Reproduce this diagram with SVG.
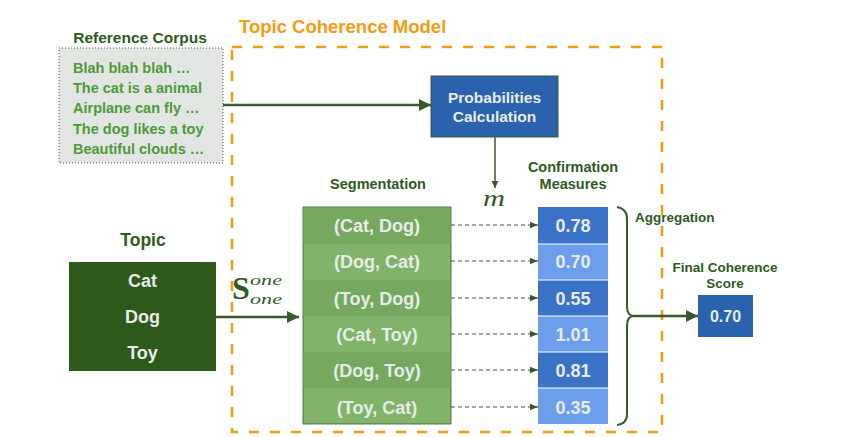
<svg xmlns="http://www.w3.org/2000/svg" width="841" height="437" viewBox="0 0 841 437">
<style>
.t{font-family:"Liberation Sans",Arial,sans-serif;font-weight:bold;fill:#2f5a1f}
.w{font-family:"Liberation Sans",Arial,sans-serif;font-weight:bold;fill:#e8ece8;text-anchor:middle;font-size:18px}
.c{font-family:"Liberation Sans",Arial,sans-serif;fill:#4e9a3a;font-size:14.5px;font-weight:bold}
.ln{stroke:#3b5a2c;fill:none}
.dl{stroke:#3b5a2c;fill:none;stroke-width:1;stroke-dasharray:4 3}
.mi{font-family:"Liberation Serif",serif;font-style:italic;fill:#2f5a1f}
</style>
<defs>
<marker id="ah" viewBox="0 0 10 10" refX="10" refY="5" markerWidth="5" markerHeight="5" orient="auto" markerUnits="strokeWidth"><path d="M0,0L10,5L0,10z" fill="#3b5a2c"/></marker>
<marker id="as" viewBox="0 0 10 10" refX="10" refY="5" markerWidth="8" markerHeight="8" orient="auto" markerUnits="strokeWidth"><path d="M0,1L10,5L0,9z" fill="#3b5a2c"/></marker>
</defs>
<g id="model-frame">
<rect x="232" y="47" width="430" height="385" fill="none" stroke="#f39c12" stroke-width="2.5" stroke-dasharray="10 11"/>
<text x="239" y="33" font-family="Liberation Sans,Arial,sans-serif" font-weight="bold" font-size="18.5" fill="#f39c12">Topic Coherence Model</text>
</g>
<g id="corpus">
<text class="t" x="140" y="43" font-size="15.5" text-anchor="middle">Reference Corpus</text>
<rect x="59" y="48" width="164" height="115" fill="#e2e6e2" stroke="#555" stroke-width="1" stroke-dasharray="1 2"/>
<text class="c" x="73" y="73">Blah blah blah …</text>
<text class="c" x="73" y="93">The cat is a animal</text>
<text class="c" x="73" y="113">Airplane can fly …</text>
<text class="c" x="73" y="134">The dog likes a toy</text>
<text class="c" x="73" y="154">Beautiful clouds …</text>
</g>
<g id="prob">
<rect x="431" y="76" width="127" height="61" fill="#2a62ad" stroke="#3b5a2c" stroke-width="1"/>
<text class="w" x="494.5" y="103" style="font-size:15.5px">Probabilities</text>
<text class="w" x="494.5" y="122" style="font-size:15.5px">Calculation</text>
</g>
<g id="topic">
<text class="t" x="143" y="246" font-size="17.5" text-anchor="middle">Topic</text>
<rect x="69" y="262" width="147" height="109" fill="#2d5a1b"/>
<text class="w" x="142.5" y="287">Cat</text>
<text class="w" x="142.5" y="323">Dog</text>
<text class="w" x="142.5" y="359">Toy</text>
</g>
<g id="segmentation">
<text class="t" x="378" y="189" font-size="14.5" text-anchor="middle">Segmentation</text>
<rect x="303" y="207" width="148" height="217" fill="#82b36b" stroke="#3b5a2c" stroke-width="0.8"/>
<rect x="303.5" y="207.5" width="147" height="36.5" fill="#76a860"/>
<rect x="303.5" y="280" width="147" height="36" fill="#76a860"/>
<rect x="303.5" y="352" width="147" height="36" fill="#76a860"/>
<text class="w" x="377" y="232">(Cat, Dog)</text>
<text class="w" x="377" y="268">(Dog, Cat)</text>
<text class="w" x="377" y="305">(Toy, Dog)</text>
<text class="w" x="377" y="341">(Cat, Toy)</text>
<text class="w" x="377" y="377">(Dog, Toy)</text>
<text class="w" x="377" y="414">(Toy, Cat)</text>
</g>
<g id="measures">
<text class="t" x="573" y="172" font-size="14.5" text-anchor="middle">Confirmation</text>
<text class="t" x="573" y="189" font-size="14.5" text-anchor="middle">Measures</text>
<rect x="538" y="207" width="70" height="37" fill="#3a72c8"/>
<rect x="538" y="244" width="70" height="36" fill="#6d9eeb"/>
<rect x="538" y="280" width="70" height="36" fill="#3a72c8"/>
<rect x="538" y="316" width="70" height="36" fill="#6d9eeb"/>
<rect x="538" y="352" width="70" height="36" fill="#3a72c8"/>
<rect x="538" y="388" width="70" height="36" fill="#6d9eeb"/>
<g stroke="#fff" stroke-width="1"><line x1="538" y1="244" x2="608" y2="244"/><line x1="538" y1="280" x2="608" y2="280"/><line x1="538" y1="316" x2="608" y2="316"/><line x1="538" y1="352" x2="608" y2="352"/><line x1="538" y1="388" x2="608" y2="388"/></g>
<text class="w" x="573" y="232">0.78</text>
<text class="w" x="573" y="268">0.70</text>
<text class="w" x="573" y="305">0.55</text>
<text class="w" x="573" y="341">1.01</text>
<text class="w" x="573" y="377">0.81</text>
<text class="w" x="573" y="414">0.35</text>
</g>
<g id="final">
<text class="t" x="725" y="272" font-size="13.5" text-anchor="middle">Final Coherence</text>
<text class="t" x="725" y="288" font-size="13.5" text-anchor="middle">Score</text>
<rect x="698" y="295" width="55" height="42" fill="#2a62ad"/>
<text class="w" x="725.5" y="322" style="font-size:16px">0.70</text>
</g>
<g id="connectors">
<line class="ln" x1="223" y1="105" x2="431" y2="105" stroke-width="2.5" marker-end="url(#ah)"/>
<line class="ln" x1="495" y1="137" x2="495" y2="188" stroke-width="1.5" marker-end="url(#ah)"/>
<text class="mi" x="483" y="206" font-size="24" textLength="22" lengthAdjust="spacingAndGlyphs">m</text>
<line class="ln" x1="216" y1="317" x2="299" y2="317" stroke-width="2.5" marker-end="url(#ah)"/>
<text x="232" y="299" font-family="Liberation Serif,serif" font-weight="bold" font-size="32" fill="#2f5a1f">S</text>
<text class="mi" x="250" y="285" font-size="15" textLength="32" lengthAdjust="spacingAndGlyphs">one</text>
<text class="mi" x="250" y="304" font-size="15" textLength="32" lengthAdjust="spacingAndGlyphs">one</text>
<line class="dl" x1="451" y1="225" x2="538" y2="225" marker-end="url(#as)"/>
<line class="dl" x1="451" y1="261" x2="538" y2="261" marker-end="url(#as)"/>
<line class="dl" x1="451" y1="298" x2="538" y2="298" marker-end="url(#as)"/>
<line class="dl" x1="451" y1="334" x2="538" y2="334" marker-end="url(#as)"/>
<line class="dl" x1="451" y1="370" x2="538" y2="370" marker-end="url(#as)"/>
<line class="dl" x1="451" y1="407" x2="538" y2="407" marker-end="url(#as)"/>
<path class="ln" stroke-width="2" d="M617,207 Q627,209 627,218 L627,306 Q627,316 634,316 Q627,316 627,326 L627,414 Q627,424 617,425"/>
<line class="ln" x1="634" y1="316" x2="698" y2="316" stroke-width="2.5" marker-end="url(#ah)"/>
<text class="t" x="635" y="222" font-size="13.5">Aggregation</text>
</g>
</svg>
